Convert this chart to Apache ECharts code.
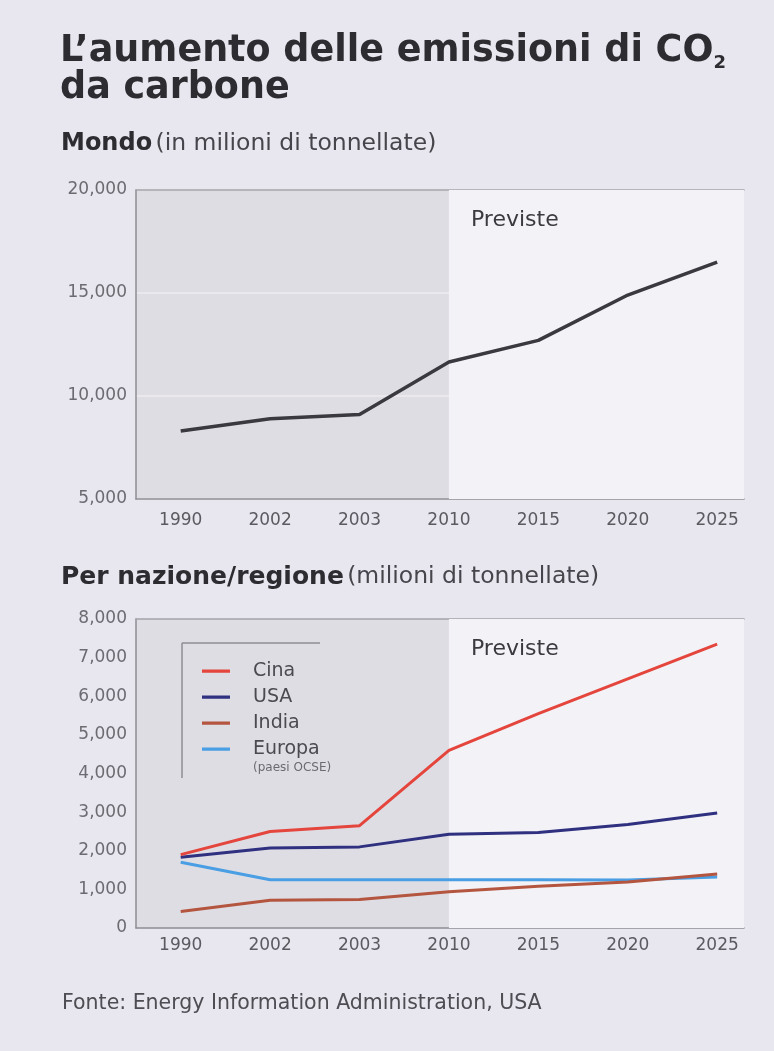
<!DOCTYPE html>
<html><head><meta charset="utf-8">
<script src="https://cdn.jsdelivr.net/npm/echarts@6/dist/echarts.min.js"></script>
<style>html,body{margin:0;padding:0;background:#e8e6ee;}#c{width:774px;height:1051px;}</style>
</head><body><div id="c"></div>
<script>
// ---- data ----
const years = ['1990', '2002', '2003', '2010', '2015', '2020', '2025'];
const worldValues = [8300, 8900, 9100, 11650, 12700, 14900, 16500];
const cinaValues = [1900, 2500, 2650, 4600, 5550, 6450, 7350];
const usaValues = [1830, 2070, 2100, 2430, 2470, 2680, 2980];
const indiaValues = [430, 720, 740, 940, 1080, 1190, 1400];
const europaValues = [1700, 1250, 1250, 1250, 1250, 1240, 1320];
const worldYTicks = [5000, 10000, 15000, 20000];
const regionYTicks = [0, 1000, 2000, 3000, 4000, 5000, 6000, 7000, 8000];
const forecastStart = '2010';
const seriesNames = ['Cina', 'USA', 'India', 'Europa'];

// ---- styling ----
const FONT = 'DejaVu Sans';
const colors = { world: '#3a393f', Cina: '#e4463d', USA: '#2f3180', India: '#b4553f', Europa: '#4a9ee3' };
const xMin = -0.5, xMax = 6.3;
const fIdx = years.indexOf(forecastStart);
const toPts = arr => arr.map((v, i) => [i, v]);
const xLabel = v => { const r = Math.round(v); return (Math.abs(v - r) < 1e-6 && r >= 0 && r < years.length) ? years[r] : ''; };
const yLabel = v => v.toLocaleString('en-US');

function xAxes(g, margin) {
  return [{
    type: 'value', gridIndex: g, min: xMin, max: xMax, interval: 0.5,
    axisLine: { show: true, onZero: false, lineStyle: { color: '#8e8d93', width: 1.5 } },
    axisTick: { show: false }, splitLine: { show: false },
    axisLabel: { formatter: xLabel, fontFamily: FONT, fontSize: 17, color: '#5a5a60', margin: margin }
  }, {
    type: 'value', gridIndex: g, min: xMin, max: xMax, position: 'top',
    axisLine: { show: true, onZero: false, lineStyle: { color: '#a3a2a8', width: 1.5 } },
    axisTick: { show: false }, splitLine: { show: false }, axisLabel: { show: false }
  }];
}
function yAxis(g, ticks, split) {
  return {
    type: 'value', gridIndex: g, min: ticks[0], max: ticks[ticks.length - 1], interval: ticks[1] - ticks[0],
    axisLine: { show: true, onZero: false, lineStyle: { color: '#8e8d93', width: 1.5 } },
    axisTick: { show: false },
    splitLine: { show: split, lineStyle: { color: 'rgba(255,255,255,0.45)', width: 1.5 } },
    axisLabel: { formatter: yLabel, fontFamily: FONT, fontSize: 17, color: '#6c6b72', margin: 9 }
  };
}
function forecastArea() {
  return {
    silent: true,
    itemStyle: { color: '#f3f2f6' },
    label: { show: true, position: 'insideTopLeft', distance: 5, offset: [17, 14],
      formatter: 'Previste', fontFamily: FONT, fontSize: 22, color: '#3a3a40' },
    data: [[{ xAxis: fIdx }, { xAxis: xMax }]]
  };
}
function lineSeries(name, vals, color, xi, yi, extra) {
  return Object.assign({
    name: name, type: 'line', xAxisIndex: xi, yAxisIndex: yi, data: toPts(vals),
    symbol: 'none', smooth: false,
    lineStyle: { color: color, width: 3 }, itemStyle: { color: color }
  }, extra || {});
}

const chart = echarts.init(document.getElementById('c'), null, { renderer: 'canvas' });
chart.setOption({
  backgroundColor: '#e8e6ee',
  animation: false,
  grid: [
    { left: 136, top: 190, width: 608, height: 309, show: true, backgroundColor: '#dfdde4', borderWidth: 0 },
    { left: 136, top: 619, width: 608, height: 309, show: true, backgroundColor: '#dfdde4', borderWidth: 0 }
  ],
  xAxis: [...xAxes(0, 13), ...xAxes(1, 9)],
  yAxis: [yAxis(0, worldYTicks, true), yAxis(1, regionYTicks, false)],
  legend: {
    orient: 'vertical', left: 197, top: 656, itemWidth: 46, itemHeight: 16, itemGap: 6,
    icon: 'path://M0,6.5h28v3.2h-28z M46,0h0.01v0.01h-0.01z M46,16h0.01v0.01h-0.01z',
    data: seriesNames,
    textStyle: { fontFamily: FONT, fontSize: 19, color: '#4a4a50', lineHeight: 20 },
    selectedMode: false
  },
  series: [
    lineSeries('Mondo', worldValues, colors.world, 0, 0, { lineStyle: { color: colors.world, width: 3.5 }, markArea: forecastArea() }),
    lineSeries('Cina', cinaValues, colors.Cina, 2, 1, { markArea: forecastArea(), z: 5 }),
    lineSeries('USA', usaValues, colors.USA, 2, 1, { z: 4 }),
    lineSeries('India', indiaValues, colors.India, 2, 1, { z: 4 }),
    lineSeries('Europa', europaValues, colors.Europa, 2, 1, { z: 3 })
  ],
  graphic: [
    { type: 'text', x: 60, y: 52, style: {
        text: '{a|L’aumento delle emissioni di CO}{b|2}', verticalAlign: 'middle', fill: '#2c2c31',
        rich: { a: { fontFamily: FONT, fontWeight: 'bold', fontSize: 36.5, lineHeight: 40, fill: '#2c2c31' },
                b: { fontFamily: FONT, fontWeight: 'bold', fontSize: 18, lineHeight: 18, verticalAlign: 'bottom', fill: '#2c2c31' } } } },
    { type: 'text', x: 60, y: 89, style: { text: 'da carbone', verticalAlign: 'middle', fill: '#2c2c31',
        font: 'bold 36.5px "DejaVu Sans"' } },
    { type: 'text', x: 61, y: 144, style: {
        text: '{a|Mondo} {b|(in milioni di tonnellate)}', verticalAlign: 'middle',
        rich: { a: { fontFamily: FONT, fontWeight: 'bold', fontSize: 24, fill: '#2c2c31' },
                b: { fontFamily: FONT, fontSize: 23.5, fill: '#45454b' } } } },
    { type: 'text', x: 61, y: 577, style: {
        text: '{a|Per nazione/regione} {b|(milioni di tonnellate)}', verticalAlign: 'middle',
        rich: { a: { fontFamily: FONT, fontWeight: 'bold', fontSize: 25, fill: '#2c2c31' },
                b: { fontFamily: FONT, fontSize: 23.5, fill: '#45454b' } } } },
    { type: 'line', shape: { x1: 182, y1: 643, x2: 320, y2: 643 }, style: { stroke: '#8e8d93', lineWidth: 1.5 } },
    { type: 'line', shape: { x1: 182, y1: 643, x2: 182, y2: 778 }, style: { stroke: '#8e8d93', lineWidth: 1.5 } },
    { type: 'text', x: 253, y: 768, style: { text: '(paesi OCSE)', verticalAlign: 'middle', fill: '#6a6a70',
        font: '12px "DejaVu Sans"' } },
    { type: 'text', x: 62, y: 1004, style: { text: 'Fonte: Energy Information Administration, USA', verticalAlign: 'middle',
        fill: '#4d4d53', font: '20.5px "DejaVu Sans"' } }
  ]
});
</script>
</body></html>
